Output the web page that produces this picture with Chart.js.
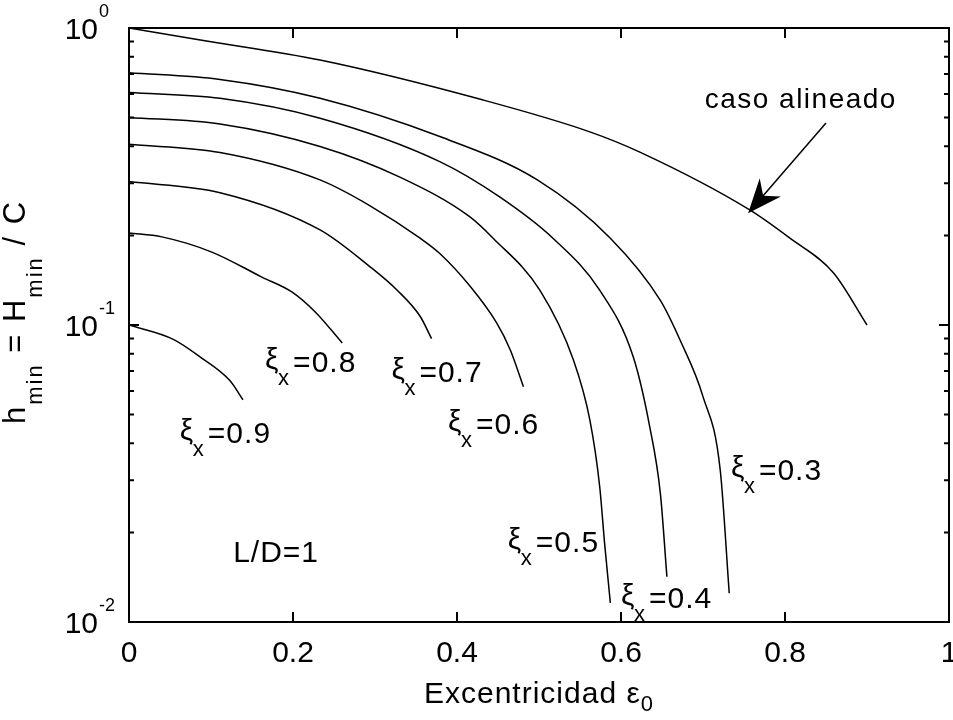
<!DOCTYPE html>
<html>
<head>
<meta charset="utf-8">
<script src="https://cdn.jsdelivr.net/npm/chart.js@4.4.0/dist/chart.umd.min.js"></script>
<style>
  html, body { margin: 0; padding: 0; background: #fff; }
</style>
</head>
<body>
<canvas id="grafico" width="953" height="720"></canvas>
<script>
// valores (h_min vs excentricidad)
const casoX = [0, 0.087, 0.233, 0.432, 0.562, 0.623, 0.757, 0.806, 0.859, 0.90];
const casoY = [1.0, 0.911, 0.780, 0.572, 0.447, 0.382, 0.244, 0.196, 0.150, 0.10];

const xi03X = [0, 0.111, 0.233, 0.379, 0.498, 0.587, 0.648, 0.672, 0.700, 0.721, 0.732];
const xi03Y = [0.707, 0.671, 0.580, 0.431, 0.308, 0.196, 0.121, 0.089, 0.0574, 0.0325, 0.0125];

const xi04X = [0, 0.111, 0.233, 0.379, 0.452, 0.517, 0.574, 0.615, 0.635, 0.648, 0.656];
const xi04Y = [0.607, 0.580, 0.497, 0.355, 0.270, 0.196, 0.131, 0.078, 0.0455, 0.0271, 0.0142];

const xi05X = [0, 0.111, 0.233, 0.331, 0.415, 0.444, 0.501, 0.542, 0.562, 0.574, 0.580, 0.587];
const xi05Y = [0.500, 0.475, 0.399, 0.314, 0.232, 0.196, 0.131, 0.0762, 0.0479, 0.0286, 0.0184, 0.0116];

const xi06X = [0, 0.111, 0.233, 0.294, 0.355, 0.379, 0.415, 0.448, 0.465, 0.481];
const xi06Y = [0.406, 0.381, 0.308, 0.252, 0.196, 0.174, 0.136, 0.102, 0.0824, 0.062];

const xi07X = [0, 0.111, 0.233, 0.294, 0.327, 0.355, 0.369];
const xi07Y = [0.304, 0.279, 0.209, 0.157, 0.131, 0.107, 0.090];

const xi08X = [0, 0.040, 0.101, 0.162, 0.199, 0.228, 0.260];
const xi08Y = [0.204, 0.198, 0.176, 0.145, 0.129, 0.110, 0.087];

const xi09X = [0, 0.054, 0.087, 0.123, 0.139];
const xi09Y = [0.100, 0.0895, 0.078, 0.065, 0.056];

// ticks
const ticksX = [0, 0.2, 0.4, 0.6, 0.8, 1];
const etiquetasX = ['0', '0.2', '0.4', '0.6', '0.8', '1'];
const ticksY = [0.01, 0.02, 0.03, 0.04, 0.05, 0.06, 0.07, 0.08, 0.09,
                0.1, 0.2, 0.3, 0.4, 0.5, 0.6, 0.7, 0.8, 0.9, 1];
const decadasY = [0.01, 0.1, 1];
const exponentesY = ['-2', '-1', '0'];

// etiquetas de las curvas (esquina izq. y linea base, en unidades de datos)
const etiquetasXi = ['0.9', '0.8', '0.7', '0.6', '0.5', '0.4', '0.3'];
const etiquetaPosX = [0.062, 0.166, 0.320, 0.389, 0.462, 0.600, 0.734];
const etiquetaPosY = [0.0400, 0.0695, 0.0644, 0.0430, 0.01725, 0.01114, 0.0301];

const casoTexto = 'caso alineado';
const casoTextoPos = [0.702, 0.538];
const flechaCola = [0.850, 0.479];
const flechaPunta = [0.755, 0.238];
const ldTexto = 'L/D=1';
const ldPos = [0.127, 0.0159];

const fuente = "'Liberation Sans', Arial, sans-serif";

function puntos(xs, ys) {
  return xs.map((x, i) => ({ x: x, y: ys[i] }));
}

function serie(xs, ys) {
  return {
    data: puntos(xs, ys), borderColor: '#000', borderWidth: 1.5, pointRadius: 0,
    cubicInterpolationMode: 'monotone', fill: false
  };
}

function dibujarPartes(ctx, partes, x0, y0, tam, tamSub, bajada) {
  let x = x0;
  partes.forEach(p => {
    ctx.font = (p.sub ? tamSub : tam) + 'px ' + fuente;
    ctx.fillText(p.t, x, y0 + (p.sub ? bajada : 0));
    x += ctx.measureText(p.t).width;
  });
}

function anchoPartes(ctx, partes, tam, tamSub) {
  let w = 0;
  partes.forEach(p => {
    ctx.font = (p.sub ? tamSub : tam) + 'px ' + fuente;
    w += ctx.measureText(p.t).width;
  });
  return w;
}

const anotaciones = {
  id: 'anotaciones',
  afterDraw(chart) {
    const { ctx, chartArea: a, scales: { x, y } } = chart;
    ctx.save();
    ctx.fillStyle = '#000';
    ctx.strokeStyle = '#000';

    // marco
    ctx.lineWidth = 2;
    ctx.strokeRect(a.left, a.top, a.right - a.left, a.bottom - a.top);

    // marcas hacia dentro
    ctx.beginPath();
    x.ticks.forEach(t => {
      const px = x.getPixelForValue(t.value);
      ctx.moveTo(px, a.bottom); ctx.lineTo(px, a.bottom - 10);
      ctx.moveTo(px, a.top); ctx.lineTo(px, a.top + 10);
    });
    y.ticks.forEach(t => {
      const py = y.getPixelForValue(t.value);
      const largo = decadasY.includes(t.value) ? 10 : 5;
      ctx.moveTo(a.left, py); ctx.lineTo(a.left + largo, py);
      ctx.moveTo(a.right, py); ctx.lineTo(a.right - largo, py);
    });
    ctx.stroke();

    // etiquetas del eje y: 10^n
    ctx.textBaseline = 'alphabetic';
    decadasY.forEach((v, i) => {
      const py = y.getPixelForValue(v);
      ctx.font = '30px ' + fuente;
      ctx.textAlign = 'right';
      ctx.fillText('10', 98, py + 11);
      ctx.font = '18px ' + fuente;
      ctx.textAlign = 'left';
      ctx.fillText(exponentesY[i], 99, py - 11);
    });

    // titulo eje x
    ctx.textAlign = 'left';
    ctx.letterSpacing = '1px';
    const partesX = [{ t: 'Excentricidad ε', sub: false }, { t: '0', sub: true }];
    const wx = anchoPartes(ctx, partesX, 30, 22);
    dibujarPartes(ctx, partesX, (a.left + a.right) / 2 - wx / 2, 703, 30, 22, 8);

    // titulo eje y (girado)
    ctx.letterSpacing = '2px';
    const partesY = [
      { t: 'h', sub: false }, { t: 'min', sub: true }, { t: ' = H', sub: false },
      { t: 'min', sub: true }, { t: ' / C', sub: false }
    ];
    const wy = anchoPartes(ctx, partesY, 31, 22);
    ctx.save();
    ctx.translate(25, 312);
    ctx.rotate(-Math.PI / 2);
    dibujarPartes(ctx, partesY, -wy / 2, 0, 31, 22, 17);
    ctx.restore();

    // etiquetas xi_x = ...
    ctx.letterSpacing = '1px';
    etiquetasXi.forEach((txt, i) => {
      const px = x.getPixelForValue(etiquetaPosX[i]);
      const py = y.getPixelForValue(etiquetaPosY[i]);
      ctx.font = '30px ' + fuente;
      ctx.fillText('ξ', px, py - 3);
      ctx.font = '22px ' + fuente;
      ctx.fillText('x', px + 13, py + 13);
      ctx.font = '30px ' + fuente;
      ctx.fillText('=' + txt, px + 28, py);
    });

    // L/D
    ctx.font = '30px ' + fuente;
    ctx.fillText(ldTexto, x.getPixelForValue(ldPos[0]), y.getPixelForValue(ldPos[1]));

    // caso alineado + flecha
    ctx.font = '28px ' + fuente;
    ctx.letterSpacing = '1.5px';
    ctx.fillText(casoTexto, x.getPixelForValue(casoTextoPos[0]), y.getPixelForValue(casoTextoPos[1]));
    ctx.letterSpacing = '0px';

    const cx = x.getPixelForValue(flechaCola[0]), cy = y.getPixelForValue(flechaCola[1]);
    const tx = x.getPixelForValue(flechaPunta[0]), ty = y.getPixelForValue(flechaPunta[1]);
    const dx = cx - tx, dy = cy - ty, L = Math.hypot(dx, dy);
    const ux = dx / L, uy = dy / L, nx = -uy, ny = ux;
    ctx.lineWidth = 1.5;
    ctx.beginPath();
    ctx.moveTo(cx, cy);
    ctx.lineTo(tx + ux * 20, ty + uy * 20);
    ctx.stroke();
    ctx.beginPath();
    ctx.moveTo(tx, ty);
    ctx.lineTo(tx + ux * 34 + nx * 14, ty + uy * 34 + ny * 14);
    ctx.lineTo(tx + ux * 23, ty + uy * 23);
    ctx.lineTo(tx + ux * 34 - nx * 14, ty + uy * 34 - ny * 14);
    ctx.closePath();
    ctx.fill();

    ctx.restore();
  }
};

new Chart(document.getElementById('grafico'), {
  type: 'line',
  data: {
    datasets: [
      serie(casoX, casoY),
      serie(xi03X, xi03Y),
      serie(xi04X, xi04Y),
      serie(xi05X, xi05Y),
      serie(xi06X, xi06Y),
      serie(xi07X, xi07Y),
      serie(xi08X, xi08Y),
      serie(xi09X, xi09Y)
    ]
  },
  options: {
    responsive: false,
    animation: false,
    layout: { padding: { top: 28, right: 4, left: 0, bottom: 0 } },
    plugins: { legend: { display: false }, tooltip: { enabled: false } },
    scales: {
      x: {
        type: 'linear',
        min: 0,
        max: 1,
        grid: { display: false, drawTicks: false },
        border: { display: false },
        afterBuildTicks: s => { s.ticks = ticksX.map(v => ({ value: v })); },
        afterFit: s => { s.height = 98; s.paddingLeft = 0; s.paddingRight = 0; },
        ticks: {
          autoSkip: false,
          maxRotation: 0,
          padding: 14,
          color: '#000',
          font: { family: fuente, size: 30 },
          callback: (v, i) => etiquetasX[i]
        }
      },
      y: {
        type: 'logarithmic',
        min: 0.01,
        max: 1,
        grid: { display: false, drawTicks: false },
        border: { display: false },
        afterBuildTicks: s => { s.ticks = ticksY.map(v => ({ value: v })); },
        afterFit: s => { s.width = 129; },
        ticks: { display: false }
      }
    }
  },
  plugins: [anotaciones]
});
</script>
</body>
</html>
